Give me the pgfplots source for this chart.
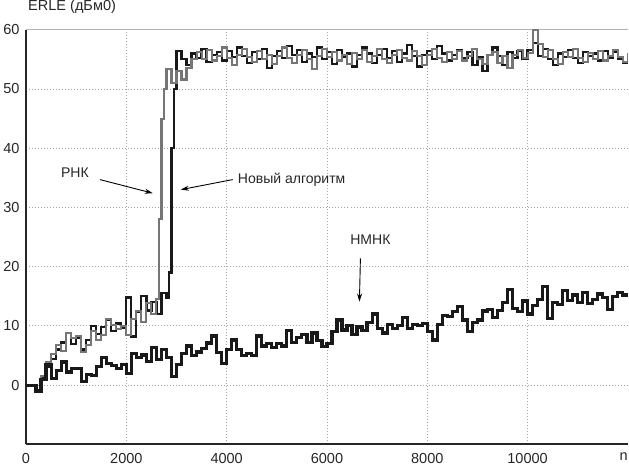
\documentclass[border=0pt]{standalone}
\usepackage{fontspec}
\setmainfont{Liberation Sans}
\usepackage{pgfplots}
\usepackage{pgfplotstable}
\pgfplotsset{compat=1.18}
\usetikzlibrary{arrows.meta}

\definecolor{rnkgray}{RGB}{118,118,118}
\definecolor{gridgray}{RGB}{165,165,165}

% НМНК
\pgfplotstableread{
n erle
0 0
100 0
200 -1
300 1
400 3.4
500 1.1
600 2.5
700 3.9
800 2.2
900 2.8
1000 2.8
1100 0.6
1200 1.8
1300 1.6
1400 3.2
1500 4.7
1600 3.6
1700 3.3
1800 2.8
1900 3.5
2000 2.0
2100 5.3
2200 4.6
2300 5.1
2400 4.0
2500 6.4
2600 4.3
2700 6.0
2800 4.6
2900 1.5
3000 3.5
3100 5.3
3200 6.6
3300 5.0
3400 5.6
3500 6.2
3600 7.1
3700 8.3
3800 5.5
3900 3.6
4000 6.0
4100 7.6
4200 6.0
4300 5.0
4400 5.4
4500 5.0
4600 8.3
4700 6.6
4800 7.0
4900 6.4
5000 7.0
5100 6.6
5200 9.2
5300 7.2
5400 8.0
5500 8.6
5600 7.2
5700 8.8
5800 7.5
5900 6.5
6000 7.0
6100 9.0
6200 11.0
6300 9.3
6400 10.0
6500 8.6
6600 9.8
6700 9.2
6800 10.6
6900 12.0
7000 9.5
7100 8.8
7200 10.2
7300 9.6
7400 10.0
7500 11.4
7600 9.5
7700 10.3
7800 10.0
7900 10.4
8000 9.0
8100 7.6
8200 10.2
8300 11.8
8400 11.6
8500 12.4
8600 13.3
8700 11.0
8800 9.0
8900 10.6
9000 11.0
9100 12.5
9200 12.8
9300 11.4
9400 12.6
9500 14.0
9600 16.1
9700 13.0
9800 12.4
9900 14.2
10000 12.0
10100 13.4
10200 14.5
10300 16.7
10400 11.2
10500 14.0
10600 13.6
10700 16.0
10800 14.3
10900 15.2
11000 14.0
11100 15.6
11200 13.8
11300 14.5
11400 15.4
11500 14.8
11600 12.8
11700 15.0
11800 15.6
11900 15.2
12000 15.0
}\nmnk

% РНК
\pgfplotstableread{
n erle
0 0
100 0
200 -0.8
300 1.5
400 3.9
500 5.2
600 6.8
700 5.8
800 8.8
900 7.9
1000 8.3
1100 5.6
1200 6.8
1300 9.2
1400 7.6
1500 8.5
1600 11.1
1700 10.2
1800 9.4
1900 10.0
2000 8.5
2100 11.2
2200 12.5
2300 10.6
2400 13.8
2500 12.0
2600 14.5
2650 28.0
2700 45.0
2750 50.0
2800 53.3
2900 51.0
3000 53.0
3100 51.6
3200 53.5
3300 55.0
3400 56.2
3500 55.0
3600 56.6
3700 54.8
3800 55.6
3900 57.0
4000 55.2
4100 54.0
4200 55.8
4300 56.8
4400 55.4
4500 54.6
4600 56.4
4700 55.0
4800 55.8
4900 54.2
5000 55.6
5100 57.0
5200 55.2
5300 54.4
5400 55.8
5500 56.6
5600 55.0
5700 53.4
5800 55.6
5900 56.8
6000 55.4
6100 56.2
6200 54.8
6300 55.8
6400 54.2
6500 56.0
6600 55.0
6700 56.6
6800 54.6
6900 55.6
7000 56.8
7100 55.0
7200 54.4
7300 55.8
7400 56.6
7500 55.2
7600 54.8
7700 56.4
7800 55.6
7900 54.0
8000 55.8
8100 56.8
8200 55.2
8300 54.6
8400 56.2
8500 55.0
8600 56.4
8700 54.8
8800 55.6
8900 56.8
9000 55.0
9100 54.2
9200 55.8
9300 56.2
9400 54.4
9500 55.6
9600 53.6
9700 55.8
9800 56.6
9900 55.2
10000 56.0
10100 60.0
10200 57.6
10300 55.4
10400 56.6
10500 55.0
10600 54.2
10700 56.2
10800 55.4
10900 56.8
11000 55.2
11100 54.6
11200 56.0
11300 55.0
11400 56.4
11500 54.8
11600 55.6
11700 56.6
11800 55.4
11900 54.6
12000 56.0
}\rnk

% Новый алгоритм
\pgfplotstableread{
n erle
0 0
100 0
200 -1
300 1.2
400 3.0
500 4.4
600 6.0
700 7.2
800 8.8
900 7.0
1000 8.0
1100 6.0
1200 7.6
1300 10.0
1400 8.6
1500 9.8
1600 11.0
1700 9.2
1800 10.4
1900 9.6
2000 14.8
2100 8.2
2200 12.4
2300 15.1
2400 12.6
2500 14.0
2600 12.0
2700 15.5
2800 14.8
2850 19.0
2900 40.0
2950 50.0
3000 56.4
3100 55.0
3200 54.0
3300 56.0
3400 55.2
3500 56.8
3600 54.6
3700 55.8
3800 56.2
3900 54.8
4000 56.4
4100 55.4
4200 57.0
4300 55.6
4400 54.4
4500 56.2
4600 55.0
4700 56.8
4800 53.6
4900 55.6
5000 56.4
5100 55.2
5200 57.2
5300 55.8
5400 56.6
5500 54.6
5600 56.0
5700 55.4
5800 57.0
5900 55.0
6000 56.2
6100 54.2
6200 56.6
6300 55.4
6400 56.0
6500 53.8
6600 55.8
6700 57.0
6800 56.0
6900 54.4
7000 55.8
7100 56.8
7200 55.2
7300 56.4
7400 54.6
7500 56.0
7600 57.4
7700 55.6
7800 53.8
7900 55.8
8000 56.4
8100 55.0
8200 57.2
8300 56.0
8400 54.8
8500 55.8
8600 56.6
8700 55.2
8800 56.2
8900 54.0
9000 55.4
9100 53.0
9200 55.8
9300 57.0
9400 55.6
9500 54.0
9600 56.2
9700 55.2
9800 56.4
9900 55.0
10000 56.6
10100 57.8
10200 55.6
10300 56.8
10400 55.0
10500 54.0
10600 56.0
10700 55.4
10800 56.6
10900 55.2
11000 54.4
11100 56.2
11200 55.6
11300 56.0
11400 54.8
11500 56.4
11600 55.2
11700 56.2
11800 55.0
11900 54.4
12000 55.6
}\novyj

\begin{document}
\begin{tikzpicture}
\begin{axis}[
  scale only axis,
  width=601pt, height=414pt,
  xmin=0, xmax=12000, ymin=-10, ymax=60,
  xtick={0,2000,4000,6000,8000,10000},
  ytick={0,10,20,30,40,50,60},
  scaled x ticks=false,
  xticklabel style={/pgf/number format/1000 sep={}},
  /pgf/number format/assume math mode=true,
  tick label style={font=\fontsize{14.5}{16}\selectfont, text=black!85},
  major tick length=0pt,
  xticklabel shift=5pt,
  yticklabel shift=3pt,
  axis x line*=bottom, axis y line*=left,
  axis line style={-, line width=2.2pt, black!85},
  grid=major,
  major grid style={gridgray, line width=0.9pt, dash pattern=on 1pt off 2pt},
  clip mode=individual,
]
\draw[gray!60, line width=0.8pt] (rel axis cs:0,1) -- (rel axis cs:1,1);
\addplot[const plot, black!90, line width=2.2pt] table[x=n, y=erle] {\novyj};
\addplot[const plot, rnkgray, line width=2.1pt] table[x=n, y=erle] {\rnk};
\addplot[const plot, black!90, line width=3.2pt] table[x=n, y=erle] {\nmnk};

\node[anchor=south west, font=\fontsize{14.5}{16}\selectfont, inner sep=0pt, text=black!85]
  at ([xshift=2pt, yshift=16pt]rel axis cs:0,1) {ERLE (дБм0)};
\node[anchor=north east, font=\fontsize{14.5}{16}\selectfont, inner sep=0pt, text=black!85]
  at ([yshift=-8pt]rel axis cs:1,0) {n};

\node[font=\fontsize{14}{16}\selectfont, text=black!85] at (axis cs:975,35.9) {РНК};
\draw[-{Stealth[length=8pt,width=5pt]}, line width=0.9pt] (axis cs:1473,34.7) -- (axis cs:2527,32.4);
\node[anchor=west, font=\fontsize{14}{16}\selectfont, text=black!85, inner sep=1pt] at (axis cs:4200,34.7) {Новый алгоритм};
\draw[-{Stealth[length=8pt,width=5pt]}, line width=0.9pt] (axis cs:4120,34.7) -- (axis cs:3085,33);
\node[font=\fontsize{14}{16}\selectfont, text=black!85] at (axis cs:6866,24.6) {НМНК};
\draw[-{Stealth[length=8pt,width=5pt]}, line width=0.9pt] (axis cs:6667,21.4) -- (axis cs:6647,14.1);
\end{axis}
\end{tikzpicture}
\end{document}
